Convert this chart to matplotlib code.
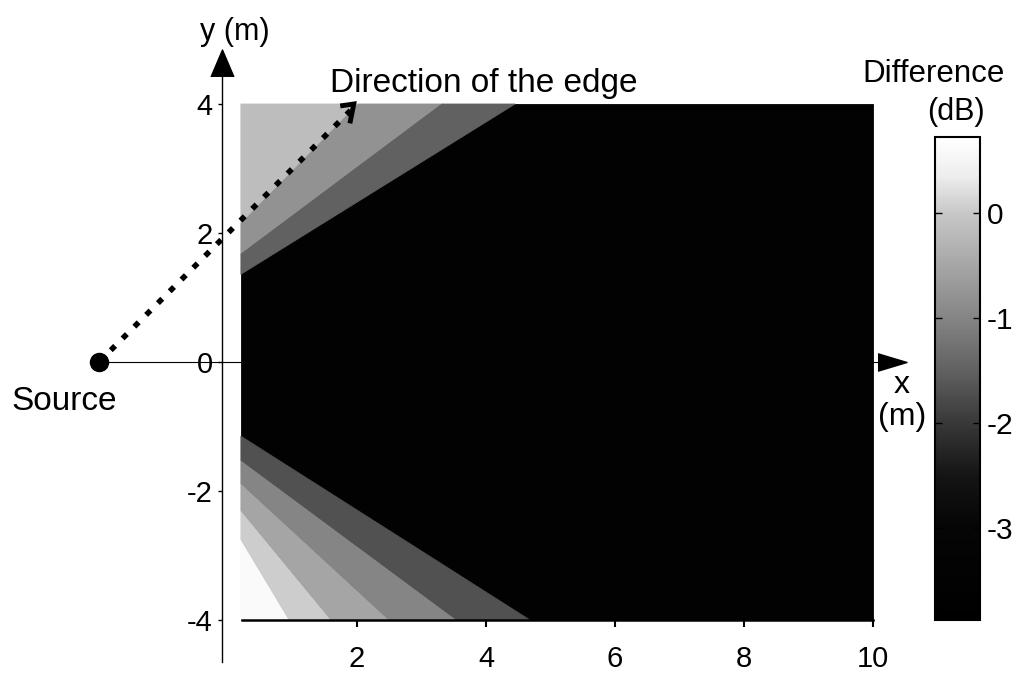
import numpy as np
import matplotlib
matplotlib.use('Agg')
import matplotlib.pyplot as plt
from matplotlib.collections import PolyCollection
from matplotlib.colors import LinearSegmentedColormap, Normalize

plt.rcParams['font.family'] = ['Liberation Sans', 'DejaVu Sans']
plt.rcParams['axes.unicode_minus'] = False

# ---------------- data ----------------
x_start, x_end = 0.2, 10.0
y_bottom, y_top = -4.0, 4.0
source_xy = (-2.0, 0.0)
edge_end = (1.9, 3.9)

background_db = -3.5            # dark region in front of the source

# upper bands, from the top-left corner outwards
upper_left_y = [2.14, 1.67, 1.36]   # where each band edge meets x = x_start
upper_top_x = [2.02, 3.32, 4.45]    # where each band edge meets y = 4
upper_db = [-0.15, -0.8, -1.5]

# lower bands, from the bottom-left corner outwards
lower_left_y = [-2.75, -2.3, -1.88, -1.52, -1.15]
lower_bottom_x = [0.95, 1.6, 2.5, 3.55, 4.68]
lower_db = [0.6, 0.05, -0.5, -1.0, -1.7]

cbar_min, cbar_max = -3.87, 0.72
cbar_ticks = [0, -1, -2, -3]
cmap_db = [-3.87, -3.0, -2.5, -2.0, -1.5, -1.0, -0.5, 0.0, 0.35, 0.72]
cmap_gray = [0.0, 0.02, 0.08, 0.22, 0.38, 0.52, 0.65, 0.78, 0.93, 1.0]

x_ticks = [2, 4, 6, 8, 10]
y_ticks = [-4, -2, 0, 2, 4]

# ---------------- figure ----------------
W, H = 1025, 676
fig = plt.figure(figsize=(W / 100, H / 100), dpi=100)
ax = fig.add_axes([0, 0, 1, 1])
ppu = 64.5
x0px, y0px = 228, 362
ax.set_xlim(-x0px / ppu, (W - x0px) / ppu)
ax.set_ylim((y0px - H) / ppu, y0px / ppu)
ax.patch.set_visible(False)

pos = [(v - cbar_min) / (cbar_max - cbar_min) for v in cmap_db]
cmap = LinearSegmentedColormap.from_list(
    'grayband', list(zip(pos, [(g, g, g) for g in cmap_gray])))
norm = Normalize(vmin=cbar_min, vmax=cbar_max)

verts, vals = [], []
verts.append([(x_start, y_bottom), (x_end, y_bottom), (x_end, y_top), (x_start, y_top)])
vals.append(background_db)
ly = [y_top] + upper_left_y
tx = [x_start] + upper_top_x
for k, v in enumerate(upper_db):
    verts.append([(tx[k], y_top), (tx[k + 1], y_top), (x_start, ly[k + 1]), (x_start, ly[k])])
    vals.append(v)
ly = [y_bottom] + lower_left_y
bx = [x_start] + lower_bottom_x
for k, v in enumerate(lower_db):
    verts.append([(bx[k], y_bottom), (bx[k + 1], y_bottom), (x_start, ly[k + 1]), (x_start, ly[k])])
    vals.append(v)

pc = PolyCollection(verts, array=np.array(vals), cmap=cmap, norm=norm,
                    edgecolors='face', linewidths=0.6, zorder=2)
ax.add_collection(pc)

# axes
for s in ['top', 'right']:
    ax.spines[s].set_visible(False)
ax.spines['left'].set_position(('data', -0.1))
ax.spines['left'].set_bounds(-4.65, 4.45)
ax.spines['left'].set_linewidth(1.0)
ax.spines['bottom'].set_position(('data', y_bottom))
ax.spines['bottom'].set_bounds(0.22, 10.0)
ax.spines['bottom'].set_linewidth(1.8)
ax.set_xticks(x_ticks)
ax.set_yticks(y_ticks)
ax.set_yticklabels([str(t) for t in y_ticks])
ax.tick_params(axis='x', direction='out', length=5, width=1.5, labelsize=21, pad=13)
ax.tick_params(axis='y', direction='out', length=3, width=1.0, labelsize=21, pad=3.5)

# axis arrows
up = [(-0.85, -1), (0, 1), (0.85, -1)]
right = [(-1, -0.6), (1, 0), (-1, 0.6)]
ax.plot(-0.1, 4.63, marker=up, markersize=19.4, color='k', clip_on=False, zorder=5)
ax.plot(10.29, 0.0, marker=right, markersize=20.9, color='k', clip_on=False, zorder=5)

# zero line, source, direction of the edge
ax.plot([source_xy[0], 10.1], [0, 0], color='k', lw=0.8, zorder=1)
ax.plot(*source_xy, 'o', ms=13, color='k', zorder=6)
ax.plot([source_xy[0], edge_end[0]], [source_xy[1], edge_end[1]], color='k', lw=4,
        dashes=(1.1, 1.9), zorder=6)
ax.plot([1.74, 1.95, 1.89], [3.97, 4.0, 3.70], color='k', lw=3.5, zorder=6,
        solid_joinstyle='miter', solid_capstyle='butt')

# texts
ax.text(0.11, 4.99, 'y (m)', ha='center', va='baseline', fontsize=22)
ax.text(1.58, 4.19, 'Direction of the edge', ha='left', va='baseline', fontsize=24)
ax.text(-2.54, -0.74, 'Source', ha='center', va='baseline', fontsize=24)
ax.text(10.94, 4.34, 'Difference', ha='center', va='baseline', fontsize=22.5)
ax.text(11.29, 3.75, '(dB)', ha='center', va='baseline', fontsize=22)
ax.text(10.45, -0.48, 'x', ha='center', va='baseline', fontsize=23)
ax.text(10.45, -0.98, '(m)', ha='center', va='baseline', fontsize=23)

# colorbar
cax = fig.add_axes([935 / W, (H - 620) / H, 45 / W, 483 / H])
cb = fig.colorbar(pc, cax=cax, ticks=cbar_ticks)
cb.outline.set_linewidth(1.5)
cax.tick_params(direction='in', length=5, width=1, labelsize=21.5, pad=5,
                left=True, right=True)
cax.set_yticklabels([str(t) for t in cbar_ticks])

fig.savefig('out.png', dpi=100)
